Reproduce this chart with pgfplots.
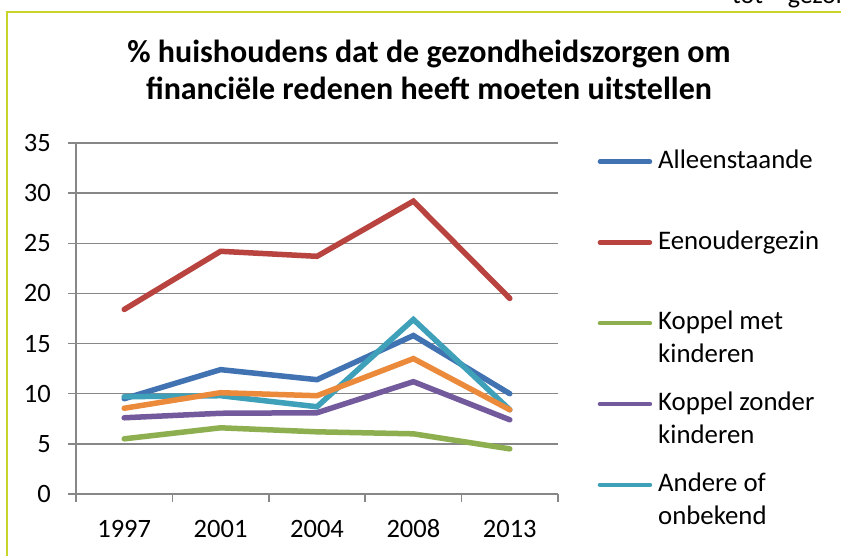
\documentclass[border=0pt]{standalone}
\usepackage{pgfplots}
\pgfplotsset{compat=1.18}
\usepackage{fontspec}
\setmainfont{Carlito}
\definecolor{cblue}{HTML}{4172B2}
\definecolor{cred}{HTML}{B8433F}
\definecolor{cgreen}{HTML}{8DAF4F}
\definecolor{cpurple}{HTML}{735A9C}
\definecolor{ccyan}{HTML}{3FA0BA}
\definecolor{corange}{HTML}{EC8A3C}
\definecolor{gridgray}{HTML}{878787}
\definecolor{bordercol}{HTML}{C9D42B}
\newcommand{\legtxt}[1]{\smash{\begin{tabular}[t]{@{}l@{}}#1\end{tabular}}}
\begin{document}
\begin{tikzpicture}[x=1pt,y=1pt]
\clip (0,0) rectangle (841,556);
\fill[white] (0,0) rectangle (841,556);
\node[anchor=base west, inner sep=0pt, font=\fontsize{26}{30}\selectfont] at (732,552) {tot – gezondheid};
\draw[bordercol, line width=2pt] (7,544) rectangle (900,-50);
\node[align=center, inner sep=0pt, anchor=base, font=\fontsize{32}{37}\selectfont\bfseries] at (429,456) {\% huishoudens dat de gezondheidszorgen om\\financiële redenen heeft moeten uitstellen};
\begin{axis}[
  at={(76pt,62pt)}, anchor=south west,
  scale only axis, width=482pt, height=351pt,
  xmin=-0.5, xmax=4.5, ymin=0, ymax=35,
  axis x line*=bottom, axis y line*=left,
  xtick={-0.5,0.5,1.5,2.5,3.5,4.5},
  x tick label as interval,
  xticklabels={1997,2001,2004,2008,2013},
  ytick={0,5,10,15,20,25,30,35},
  tick align=outside, major tick length=8pt,
  ymajorgrids,
  grid style={gridgray, line width=1.5pt},
  axis line style={gridgray, line width=1.5pt, -},
  tick style={gridgray, line width=1.5pt},
  ticklabel style={font=\fontsize{26.5}{31}\selectfont, text=black},
  xticklabel style={anchor=north, text height=17pt, text depth=0pt, inner sep=0pt, yshift=-18pt},
  yticklabel style={anchor=east, inner sep=0pt, xshift=-17pt},
  /pgf/number format/assume math mode=true,
  every axis plot/.append style={line width=5.5pt, line cap=round, line join=miter},
  legend image code/.code={\path (0pt,0pt); \draw[#1, line width=4.5pt] (2pt,7.5pt) -- (52pt,7.5pt);},
  legend style={at={(516pt,336.8pt)}, anchor=north west, draw=none, fill=none,
    font=\fontsize{26.8}{32.5}\selectfont, row sep=68.3pt,
    nodes={inner sep=0pt}, column sep=6pt},
  legend cell align=left,
  clip=false,
]
\addplot[cblue] coordinates {(0,9.5) (1,12.4) (2,11.4) (3,15.8) (4,10.0)};
\addlegendentry{\legtxt{Alleenstaande}}
\addplot[cred] coordinates {(0,18.4) (1,24.2) (2,23.7) (3,29.2) (4,19.5)};
\addlegendentry{\legtxt{Eenoudergezin}}
\addplot[cgreen] coordinates {(0,5.5) (1,6.6) (2,6.2) (3,6.0) (4,4.5)};
\addlegendentry{\legtxt{Koppel met\\kinderen}}
\addplot[cpurple] coordinates {(0,7.6) (1,8.05) (2,8.1) (3,11.2) (4,7.4)};
\addlegendentry{\legtxt{Koppel zonder\\kinderen}}
\addplot[ccyan] coordinates {(0,9.7) (1,9.8) (2,8.7) (3,17.4) (4,8.4)};
\addlegendentry{\legtxt{Andere of\\onbekend}}
\addplot[corange, forget plot] coordinates {(0,8.55) (1,10.1) (2,9.8) (3,13.5) (4,8.4)};
\end{axis}
\end{tikzpicture}
\end{document}
